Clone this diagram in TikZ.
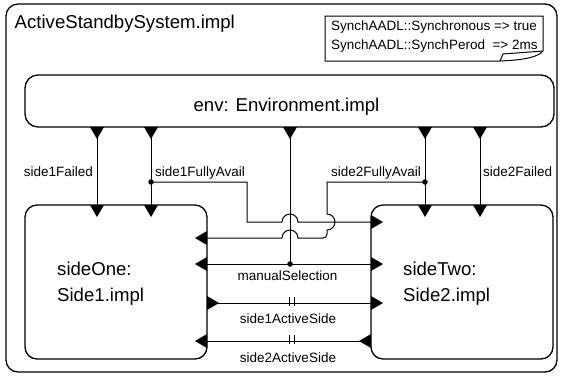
\documentclass[tikz,border=0pt]{standalone}
\usepackage{fontspec}
\setmainfont{Liberation Sans}
\usetikzlibrary{calc}
\begin{document}
\begin{tikzpicture}[x=1pt,y=-1pt,
  box/.style={draw,line width=1.3pt,rounded corners=12pt,inner sep=0pt},
  conn/.style={line width=1pt},
  big/.style={inner sep=0pt,font=\fontsize{18.6}{22}\selectfont},
  small/.style={inner sep=0pt,font=\fontsize{13.5}{16}\selectfont},
  dotj/.style={fill,circle,inner sep=0pt,minimum size=5.5pt},
  pdown/.pic={\fill (-7,0) -- (7,0) -- (0,12) -- cycle;},
  pleft/.pic={\fill (0,-7) -- (0,7) -- (-12,0) -- cycle;},
  pright/.pic={\fill (0,-7) -- (0,7) -- (12,0) -- cycle;},
  ticks/.pic={\draw[line width=1.3pt] (-2.5,-6) -- (-2.5,3) (2.5,-6) -- (2.5,3);}
]
\useasboundingbox (0,0) rectangle (562,376);

% boxes
\node[box,minimum width=551pt,minimum height=368pt] (sys) at (281.5,188) {};
\node[big,anchor=base west] (title) at (14.5,28.3) {ActiveStandbySystem.impl};
\node[box,minimum width=529pt,minimum height=52pt,rounded corners=13pt] (env) at (289.5,101) {};
\node[big,anchor=base] (envt) at (286.5,111.6) {env: Environment.impl};
\node[box,minimum width=182pt,minimum height=154pt] (s1) at (116,282) {};
\node[box,minimum width=182pt,minimum height=154pt] (s2) at (462,282) {};
\node[big,anchor=base west] (s1a) at (57,275) {sideOne:};
\node[big,anchor=base west] (s1b) at (57,301) {Side1.impl};
\node[big,anchor=base west] (s2a) at (403,275) {sideTwo:};
\node[big,anchor=base west] (s2b) at (403,301) {Side2.impl};

% note
\coordinate (nA) at (325,16);
\coordinate (nB) at (543,16);
\coordinate (nC) at (543,51);
\coordinate (nD) at (500,61);
\coordinate (nE) at (325,61);
\draw[line width=1pt] (nC) -- (nB) -- (nA) -- (nE) -- (nD)
  .. controls (525,60) and (538,57) .. (nC);
\draw[line width=1pt] (nD) -- (503,54) -- (nC);
\node[small,anchor=base west] (n1) at (331,30.4) {SynchAADL::Synchronous => true};
\node[small,anchor=base west] (n2) at (331,49.4) {SynchAADL::SynchPerod\ \ => 2ms};

% port coordinates
\coordinate (e1) at (97,127);  \coordinate (e2) at (151,127);
\coordinate (e3) at (290,127); \coordinate (e4) at (425,127);
\coordinate (e5) at (480,127);
\coordinate (a1) at (97,205);  \coordinate (a2) at (151,205);
\coordinate (b1) at (425,205); \coordinate (b2) at (480,205);
\coordinate (r1) at (207,238); \coordinate (r2) at (207,264);
\coordinate (r3) at (207,303); \coordinate (r4) at (207,341);
\coordinate (l1) at (371,222); \coordinate (l2) at (371,264);
\coordinate (l3) at (371,303); \coordinate (l4) at (371,341);

% port symbols
\foreach \p in {e1,e2,e3,e4,e5,a1,a2,b1,b2} \pic at (\p) {pdown};
\foreach \p in {r1,r2,r4} \pic at (\p) {pleft};
\pic at (r3) {pright};
\foreach \p in {l1,l2,l3} \pic at (\p) {pright};
\pic at (l4) {pleft};

% vertical connectors
\draw[conn] (e1) -- (a1);
\draw[conn] (e2) -- (a2);
\draw[conn] (e4) -- (b1);
\draw[conn] (e5) -- (b2);
\node[dotj] (j1) at (151,182) {};
\node[dotj] (j2) at (425,182) {};
\node[dotj] (j3) at (290,264) {};
\draw[conn] (e3) -- (j3.center);

% side1FullyAvail -> side2
\draw[conn] (j1.center) -- (247,182) -- (247,222) -- (282,222)
  .. controls (282,217.6) and (285.6,214) .. (290,214)
  .. controls (294.4,214) and (298,217.6) .. (298,222) -- (l1);

% side2FullyAvail -> side1
\draw[conn] (j2.center) -- (327,182) -- (327,214)
  .. controls (331.4,214) and (335,217.6) .. (335,222)
  .. controls (335,226.4) and (331.4,230) .. (327,230)
  -- (327,234) .. controls (327,236.5) and (325.5,238) .. (323,238)
  -- (298,238)
  .. controls (298,233.6) and (294.4,230) .. (290,230)
  .. controls (285.6,230) and (282,233.6) .. (282,238) -- (r1);

% manualSelection
\draw[conn] (r2) -- (l2);
\node[small,anchor=base] (lm) at (287.5,280) {manualSelection};

% active side
\draw[conn] (r3) -- (l3);
\pic at (292,303) {ticks};
\node[small,anchor=base] (la1) at (288,323) {side1ActiveSide};
\draw[conn] (l4) -- (r4);
\pic at (292,341) {ticks};
\node[small,anchor=base] (la2) at (288,362) {side2ActiveSide};

% labels
\node[small,anchor=base east] (lf1) at (93,176) {side1Failed};
\node[small,anchor=base west] (lv1) at (155,176) {side1FullyAvail};
\node[small,anchor=base east] (lv2) at (421,176) {side2FullyAvail};
\node[small,anchor=base west] (lf2) at (483,176) {side2Failed};
\end{tikzpicture}
\end{document}
